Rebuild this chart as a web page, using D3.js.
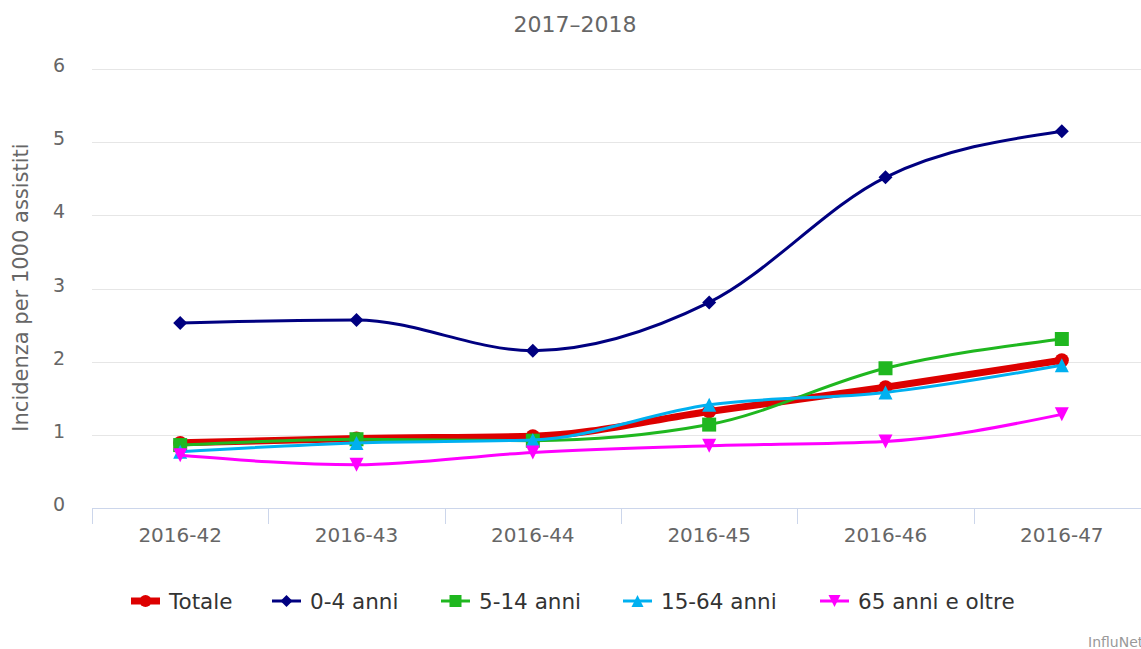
<!DOCTYPE html>
<html>
<head>
<meta charset="utf-8">
<script src="https://cdn.jsdelivr.net/npm/d3@7"></script>
<style>
  body { margin: 0; background: #fff; }
  svg text { font-family: "DejaVu Sans", Verdana, sans-serif; }
</style>
</head>
<body>
<div id="chart"></div>
<script>
var weeks = ['2016-42', '2016-43', '2016-44', '2016-45', '2016-46', '2016-47'];
var seriesNames = ['Totale', '0-4 anni', '5-14 anni', '15-64 anni', '65 anni e oltre'];
var totale = [0.89, 0.95, 0.98, 1.32, 1.65, 2.02];
var anni0_4 = [2.53, 2.57, 2.15, 2.81, 4.52, 5.15];
var anni5_14 = [0.86, 0.94, 0.92, 1.14, 1.91, 2.31];
var anni15_64 = [0.77, 0.89, 0.93, 1.41, 1.58, 1.95];
var anni65 = [0.72, 0.59, 0.76, 0.85, 0.91, 1.28];
var yTicks = [0, 1, 2, 3, 4, 5, 6];

var width = 1141, height = 649;
var margin = {left: 92, right: -9, top: 69, bottom: 141};
var plotW = width - margin.left - margin.right;
var plotH = height - margin.top - margin.bottom;

var series = [
    {name: seriesNames[0], values: totale, color: '#dd0000', width: 7, symbol: 'circle'},
    {name: seriesNames[1], values: anni0_4, color: '#000080', width: 3, symbol: 'diamond'},
    {name: seriesNames[2], values: anni5_14, color: '#1fb71f', width: 3, symbol: 'square'},
    {name: seriesNames[3], values: anni15_64, color: '#00b0f0', width: 3, symbol: 'triangle'},
    {name: seriesNames[4], values: anni65, color: '#ff00ff', width: 3, symbol: 'triangle-down'}
];

var x = d3.scaleBand().domain(weeks).range([0, plotW]);
var y = d3.scaleLinear().domain([0, 6]).range([plotH, 0]);

var svg = d3.select("#chart").append("svg").attr("width", width).attr("height", height);

svg.append("text")
    .attr("x", 575).attr("y", 32)
    .attr("text-anchor", "middle")
    .attr("fill", "#666").attr("font-size", 22)
    .text("2017\u20132018");

var g = svg.append("g").attr("transform", "translate(" + margin.left + "," + margin.top + ")");

// gridlines
g.selectAll(".grid").data(yTicks.filter(function (d) { return d > 0; })).enter()
    .append("line")
    .attr("x1", 0).attr("x2", plotW)
    .attr("y1", function (d) { return Math.round(y(d)) + 0.5; })
    .attr("y2", function (d) { return Math.round(y(d)) + 0.5; })
    .attr("stroke", "#e6e6e6").attr("stroke-width", 1);

// y labels
g.selectAll(".ylab").data(yTicks).enter()
    .append("text")
    .attr("x", -27).attr("y", function (d) { return y(d) + 3; })
    .attr("text-anchor", "end")
    .attr("fill", "#666").attr("font-size", 19)
    .text(function (d) { return d; });

svg.append("text")
    .attr("transform", "translate(28," + (margin.top + plotH / 2 - 1) + ") rotate(-90)")
    .attr("text-anchor", "middle")
    .attr("fill", "#666").attr("font-size", 21)
    .text("Incidenza per 1000 assistiti");

// x axis
var xAxis = g.append("g").attr("transform", "translate(0," + plotH + ")");
xAxis.append("line").attr("x1", 0).attr("x2", plotW).attr("y1", 0.5).attr("y2", 0.5)
    .attr("stroke", "#ccd6eb");
xAxis.selectAll(".tick").data(weeks).enter().append("line")
    .attr("x1", function (d) { return Math.round(x(d)) + 0.5; })
    .attr("x2", function (d) { return Math.round(x(d)) + 0.5; })
    .attr("y1", 0).attr("y2", 16)
    .attr("stroke", "#ccd6eb");
xAxis.selectAll(".xlab").data(weeks).enter().append("text")
    .attr("x", function (d) { return x(d) + x.bandwidth() / 2; })
    .attr("y", 34)
    .attr("text-anchor", "middle")
    .attr("fill", "#666").attr("font-size", 20)
    .text(function (d) { return d; });

// marker shapes, r = half size
function symbolPath(s, r) {
    if (s === 'circle') return d3.symbol().type(d3.symbolCircle).size(Math.PI * r * r)();
    if (s === 'square') return "M" + (-r) + "," + (-r) + "H" + r + "V" + r + "H" + (-r) + "Z";
    if (s === 'diamond') return "M0," + (-r) + "L" + r + ",0L0," + r + "L" + (-r) + ",0Z";
    if (s === 'triangle') return "M0," + (-r) + "L" + r + "," + r + "H" + (-r) + "Z";
    return "M0," + r + "L" + r + "," + (-r) + "H" + (-r) + "Z";
}

var line = d3.line()
    .x(function (d, i) { return x(weeks[i]) + x.bandwidth() / 2; })
    .y(function (d) { return y(d); })
    .curve(d3.curveMonotoneX);

series.forEach(function (s) {
    var sg = g.append("g");
    sg.append("path").attr("d", line(s.values))
        .attr("fill", "none").attr("stroke", s.color).attr("stroke-width", s.width)
        .attr("stroke-linejoin", "round").attr("stroke-linecap", "round");
    sg.selectAll("path.m").data(s.values).enter().append("path")
        .attr("class", "m")
        .attr("d", symbolPath(s.symbol, 7))
        .attr("transform", function (d, i) {
            return "translate(" + (x(weeks[i]) + x.bandwidth() / 2) + "," + y(d) + ")";
        })
        .attr("fill", s.color);
});

// legend
var legendX = [131, 272, 441, 623, 820];
var legend = svg.append("g").attr("transform", "translate(0,601)");
series.forEach(function (s, i) {
    var lg = legend.append("g").attr("transform", "translate(" + legendX[i] + ",0)");
    lg.append("line").attr("x1", 0).attr("x2", 29).attr("y1", 0).attr("y2", 0)
        .attr("stroke", s.color).attr("stroke-width", s.width);
    lg.append("path").attr("d", symbolPath(s.symbol, 6))
        .attr("transform", "translate(14.5,0)")
        .attr("fill", s.color);
    lg.append("text").attr("x", 38).attr("y", 8)
        .attr("fill", "#333").attr("font-size", 21.5)
        .text(s.name);
});

svg.append("text")
    .attr("x", 1088).attr("y", 647)
    .attr("fill", "#999").attr("font-size", 14)
    .text("InfluNet");
</script>
</body>
</html>
